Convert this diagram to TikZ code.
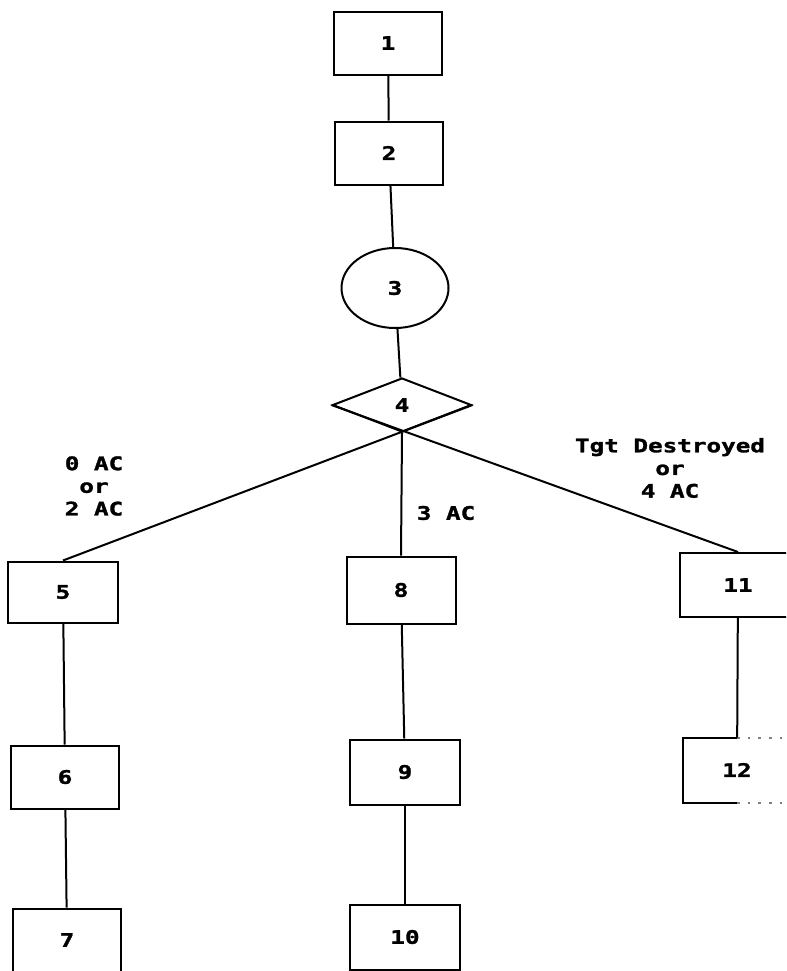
\documentclass[tikz,border=0pt]{standalone}
\usepackage{fontspec}
\newfontfamily\dotfont{DejaVu Sans Mono Bold}[FakeStretch=1.3, FakeBold=1.5]
\usepackage{tikz}
\usetikzlibrary{shapes.geometric, calc}

\begin{document}
\begin{tikzpicture}[x=0.75pt, y=-0.75pt, line width=1.5pt,
	every node/.style={font=\dotfont\fontsize{14pt}{17pt}\selectfont},
	box/.style={draw, rectangle, inner sep=0pt, minimum width=81pt, minimum height=47.25pt},
	lbl/.style={align=center, inner sep=0pt}]
	\clip (0,0) rectangle (786,971);
	\fill [white] (0,0) rectangle (786,971);

	\node [box] (n1) at (388,43) {1};
	\node [box] (n2) at (389,153) {2};
	\node [draw, ellipse, inner sep=0pt, minimum width=80.25pt, minimum height=60pt] (n3) at (395,288) {3};
	\node [draw, diamond, aspect=2.5, inner sep=0pt, minimum width=104.25pt, minimum height=40.5pt] (n4) at (402,405) {4};

	\node [box, minimum width=82.5pt, minimum height=45.75pt] (n5) at (63,592) {5};
	\node [box] (n6) at (65,777) {6};
	\node [box] (n7) at (67,940) {7};

	\node [box, minimum width=81.75pt, minimum height=50.25pt] (n8) at (401,590) {8};
	\node [box, minimum width=82.5pt, minimum height=48.75pt] (n9) at (405,772) {9};
	\node [box, minimum width=82.5pt, minimum height=48.75pt] (n10) at (405,937) {10};

	\node [box, minimum width=87pt, minimum height=48pt] (n11) at (738,585) {11};
	\node [box, draw=none, minimum width=79.5pt] (n12) at (737,770) {12};
	\draw (n12.north) -- (n12.north west) -- (n12.south west) -- (n12.south);
	\draw [gray, dash pattern=on 2pt off 6pt] (n12.north) -- (n12.north east);
	\draw [gray, dash pattern=on 2pt off 6pt] (n12.south) -- (n12.south east);

	\draw (n1) -- (n2);
	\draw (n2) -- (n3);
	\draw (n3) -- (n4);
	\draw (n4.east) -- (n5.north);
	\draw (n4.south) -- (n8.north);
	\draw (n4.west) -- (n11.north);
	\draw (n5) -- (n6);
	\draw (n6) -- (n7);
	\draw (n8) -- (n9);
	\draw (n9) -- (n10);
	\draw (n11) -- (n12);

	% branch labels
	\node [lbl] (l5) at (94,486) {0 AC\\or\\2 AC};
	\node [lbl] (l8) at (446,513) {3 AC};
	\node [lbl] (l11) at (670,468) {Tgt Destroyed\\or\\4 AC};
\end{tikzpicture}
\end{document}
